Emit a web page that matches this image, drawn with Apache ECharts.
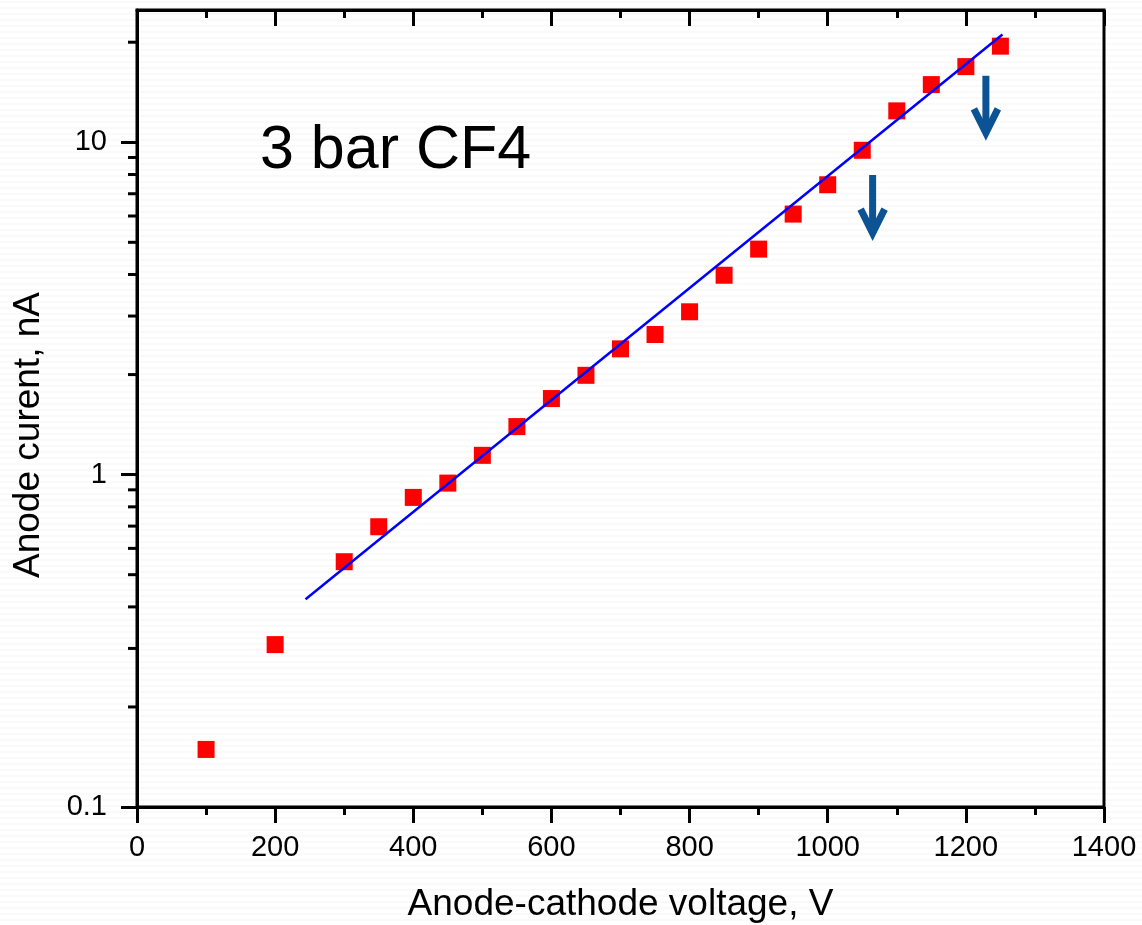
<!DOCTYPE html>
<html>
<head>
<meta charset="utf-8">
<title>3 bar CF4</title>
<script src="https://cdn.jsdelivr.net/npm/echarts@6/dist/echarts.min.js"></script>
<style>
    html, body {
        margin: 0;
        padding: 0;
        background-color: #ffffff;
        background-image: repeating-linear-gradient(0deg, #ffffff 0px, #ffffff 4px, #f4f4f4 5px, #ffffff 6px);
    }
    #chart {
        width: 1142px;
        height: 925px;
    }
</style>
</head>
<body>
<div id="chart"></div>
<script>
// Mesures : tension anode-cathode (V) et courant d'anode (nA)
var voltages = [100, 200, 300, 350, 400, 450, 500, 550, 600, 650, 700, 750,
                800, 850, 900, 950, 1000, 1050, 1100, 1150, 1200, 1250];
var currents = [0.149, 0.308, 0.547, 0.697, 0.854, 0.943, 1.143, 1.395, 1.694, 1.99, 2.39, 2.64,
                3.09, 3.98, 4.77, 6.08, 7.45, 9.46, 12.43, 14.91, 16.89, 19.46];

// Droite d'ajustement (exponentielle)
var fitVoltages = [244, 1253];
var fitCurrents = [0.422, 21.1];

// Flèches : tension, haut, pointe
var arrowVoltages = [1065, 1229];
var arrowTops = [7.97, 15.85];
var arrowTips = [5.04, 10.1];

// Graduations de l'axe log
var yMajorTicks = [0.1, 1, 10];
var yMinorTicks = [0.2, 0.3, 0.4, 0.5, 0.6, 0.7, 0.8, 0.9,
                   2, 3, 4, 5, 6, 7, 8, 9, 20];

var arrowColor = '#0b5394';
var fontName = '"Liberation Sans", Arial, sans-serif';

var dom = document.getElementById('chart');
var myChart = echarts.init(dom, null, { renderer: 'canvas' });

var points = voltages.map(function (v, i) { return [v, currents[i]]; });
var fitLine = fitVoltages.map(function (v, i) { return [v, fitCurrents[i]]; });
var arrows = arrowVoltages.map(function (v, i) { return [v, arrowTops[i], arrowTips[i]]; });
var minorTicks = yMinorTicks.map(function (v) { return [0, v]; });

function renderMinorTick(params, api) {
    var p = api.coord([api.value(0), api.value(1)]);
    return {
        type: 'line',
        shape: { x1: p[0] - 9, y1: p[1], x2: p[0], y2: p[1] },
        style: { stroke: '#000', lineWidth: 3 }
    };
}

function renderArrow(params, api) {
    var top = api.coord([api.value(0), api.value(1)]);
    var tip = api.coord([api.value(0), api.value(2)]);
    var x = top[0];
    return {
        type: 'group',
        children: [
            {
                type: 'line',
                shape: { x1: x, y1: top[1], x2: x, y2: tip[1] - 10 },
                style: { stroke: arrowColor, lineWidth: 7 }
            },
            {
                type: 'polyline',
                shape: { points: [[x - 12, tip[1] - 32], [x, tip[1] - 8], [x + 12, tip[1] - 32]] },
                style: { stroke: arrowColor, lineWidth: 7, fill: null, lineJoin: 'miter' }
            }
        ]
    };
}

var option = {
    animation: false,
    backgroundColor: 'transparent',
    textStyle: { fontFamily: fontName },
    grid: {
        left: 137,
        right: 38,
        top: 10,
        bottom: 118,
        outerBoundsMode: 'none',
        containLabel: false,
        show: true,
        borderColor: '#000',
        borderWidth: 3
    },
    graphic: [
        {
            type: 'text',
            left: 260,
            top: 121,
            style: {
                text: '3 bar CF4',
                font: '61px ' + fontName,
                fill: '#000'
            }
        },
        {
            type: 'text',
            x: 29,
            y: 435,
            rotation: Math.PI / 2,
            style: {
                text: 'Anode curent, nA',
                font: '37px ' + fontName,
                fill: '#000',
                align: 'center',
                verticalAlign: 'middle'
            }
        }
    ],
    xAxis: [
        {
            type: 'value',
            min: 0,
            max: 1400,
            interval: 200,
            name: 'Anode-cathode voltage, V',
            nameLocation: 'middle',
            nameGap: 79,
            nameTextStyle: { fontSize: 37, color: '#000', fontFamily: fontName },
            axisLine: { show: true, lineStyle: { color: '#000', width: 3 } },
            axisTick: { show: true, inside: false, length: 16, lineStyle: { color: '#000', width: 3 } },
            minorTick: { show: true, splitNumber: 2, length: 8, lineStyle: { color: '#000', width: 3 } },
            axisLabel: {
                fontSize: 29,
                color: '#000',
                margin: 26,
                fontFamily: fontName,
                formatter: function (v) { return String(v); }
            },
            splitLine: { show: false }
        },
        {
            type: 'value',
            position: 'top',
            min: 0,
            max: 1400,
            interval: 200,
            axisLine: { show: true, lineStyle: { color: '#000', width: 3 } },
            axisTick: { show: true, inside: true, length: 16, lineStyle: { color: '#000', width: 3 } },
            minorTick: { show: true, splitNumber: 2, length: 8, lineStyle: { color: '#000', width: 3 } },
            axisLabel: { show: false },
            splitLine: { show: false }
        }
    ],
    yAxis: {
        type: 'log',
        logBase: 10,
        min: 0.1,
        max: 25,
        axisLine: { show: true, lineStyle: { color: '#000', width: 3 } },
        axisTick: {
            show: true,
            inside: false,
            length: 16,
            customValues: yMajorTicks,
            lineStyle: { color: '#000', width: 3 }
        },
        axisLabel: {
            fontSize: 29,
            color: '#000',
            margin: 30,
            fontFamily: fontName,
            customValues: yMajorTicks,
            formatter: function (v) { return String(+(+v).toPrecision(3)); }
        },
        splitLine: { show: false }
    },
    series: [
        {
            name: 'Fit',
            type: 'line',
            data: fitLine,
            showSymbol: false,
            silent: true,
            lineStyle: { color: '#0000ff', width: 2.5 },
            z: 3
        },
        {
            name: 'Anode current',
            type: 'scatter',
            data: points,
            symbol: 'rect',
            symbolSize: 17,
            itemStyle: { color: '#ff0000', opacity: 1 },
            z: 2
        },
        {
            name: 'Arrows',
            type: 'custom',
            data: arrows,
            renderItem: renderArrow,
            silent: true,
            z: 4
        },
        {
            name: 'Minor ticks',
            type: 'custom',
            data: minorTicks,
            renderItem: renderMinorTick,
            clip: false,
            silent: true,
            z: 5
        }
    ]
};

myChart.setOption(option);
</script>
</body>
</html>
